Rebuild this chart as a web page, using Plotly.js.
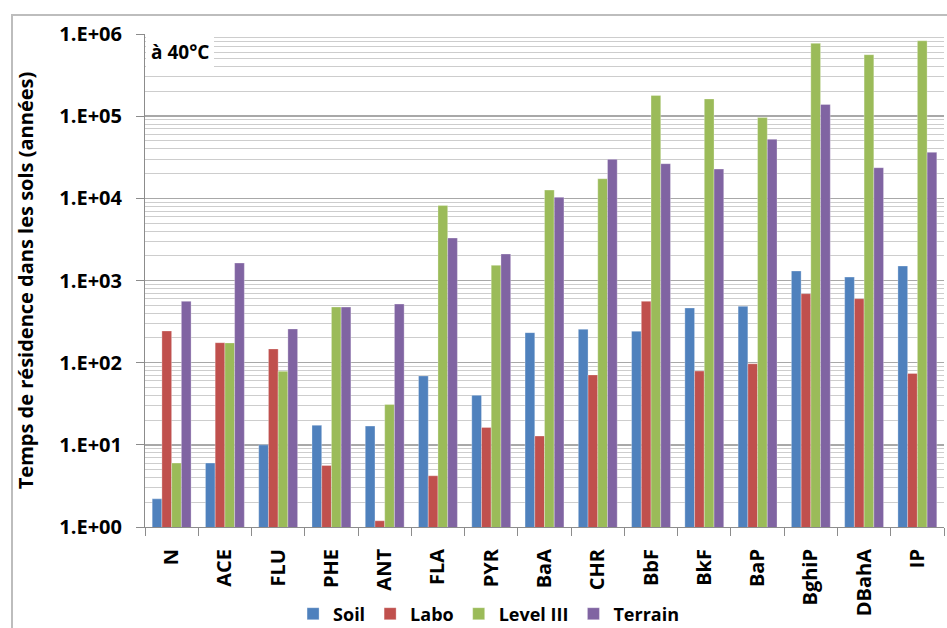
<!DOCTYPE html>
<html>
<head>
<meta charset="utf-8">
<script src="https://cdn.plot.ly/plotly-3.0.1.min.js"></script>
<style>
  html, body { margin: 0; padding: 0; background: #fff; }
  #wrap { position: relative; width: 947px; height: 628px; overflow: hidden; }
  #chart { position: absolute; left: 0; top: 0; width: 947px; height: 628px; }
  #frame { position: absolute; left: 11px; top: 14px; width: 1000px; height: 700px;
           border-left: 2px solid #bdbdbd; border-top: 2px solid #bdbdbd; pointer-events: none; }
</style>
</head>
<body>
<div id="wrap">
  <div id="chart"></div>
  <div id="frame"></div>
</div>
<script>
const categories = ["N","ACE","FLU","PHE","ANT","FLA","PYR","BaA","CHR","BbF","BkF","BaP","BghiP","DBahA","IP"];
const soil     = [2.2, 6.0, 10, 17.3, 16.9, 69, 40, 232, 255, 241, 463, 485, 1305, 1100, 1500];
const labo     = [243, 175, 147, 5.6, 1.19, 4.2, 16.3, 12.8, 71, 558, 79, 97, 691, 601, 74];
const levelIII = [6.0, 174, 78.5, 476, 31, 8200, 1530, 12600, 17300, 179000, 162000, 96000, 769000, 560000, 828000];
const terrain  = [558, 1633, 257, 475, 517, 3290, 2100, 10300, 29800, 26400, 22700, 52300, 139000, 23600, 36300];
const seriesNames = ["Soil", "Labo", "Level III", "Terrain"];
const seriesColors = ["#4F81BD", "#C0504D", "#9BBB59", "#8064A2"];
const yTickVals = [1, 10, 100, 1000, 10000, 100000, 1000000];
const yTickText = ["1.E+00","1.E+01","1.E+02","1.E+03","1.E+04","1.E+05","1.E+06"];

const minorVals = [];
for (let e = 0; e < 6; e++) for (let m = 2; m <= 9; m++) minorVals.push(m * Math.pow(10, e));

const F = '"Open Sans", "Liberation Sans", sans-serif';
const FS = 20;
const data = [soil, labo, levelIII, terrain].map((vals, i) => ({
  type: 'bar', name: seriesNames[i], x: categories, y: vals,
  marker: { color: seriesColors[i], line: { color: 'rgba(255,255,255,0.5)', width: 0.6 } }
}));

const layout = {
  width: 947, height: 628,
  margin: { l: 145, r: 3, t: 34, b: 101, autoexpand: false },
  paper_bgcolor: '#fff', plot_bgcolor: '#fff',
  barmode: 'group', bargap: 0.27, bargroupgap: 0,
  font: { family: F, color: '#000' },
  showlegend: true,
  legend: { orientation: 'h', x: 0.43, xanchor: 'center', y: -0.1765, yanchor: 'middle',
            font: { family: F, size: 18, color: '#000', weight: 'bold' },
            itemwidth: 30, tracegroupgap: 0 },
  xaxis: {
    type: 'category', automargin: false, showgrid: false, showline: true, linecolor: '#8c8c8c', linewidth: 1,
    ticks: 'outside', tickson: 'boundaries', ticklen: 8, tickcolor: '#8c8c8c',
    tickangle: -90, ticklabelstandoff: 13,
    tickfont: { family: F, size: FS, weight: 'bold', color: '#000' },
    fixedrange: true
  },
  yaxis: {
    type: 'log', automargin: false, range: [0, 6], tickmode: 'array', tickvals: yTickVals, ticktext: yTickText,
    tickfont: { family: F, size: FS, weight: 'bold', color: '#000' },
    showline: true, linecolor: '#8c8c8c', linewidth: 1,
    ticks: 'outside', ticklen: 8, tickcolor: '#8c8c8c', ticklabelstandoff: 10,
    showgrid: true, gridcolor: '#a8a8a8', gridwidth: 1.5, zeroline: false,
    minor: { tickmode: 'array', tickvals: minorVals, showgrid: true, gridcolor: '#cdcdcd', gridwidth: 1, ticks: '' },
    title: { text: 'Temps de résidence dans les sols (années)', standoff: 20,
             font: { family: F, size: FS, weight: 'bold', color: '#000' } },
    fixedrange: true
  },
  annotations: [{
    xref: 'paper', yref: 'paper', x: 0, y: 1, xanchor: 'left', yanchor: 'top',
    xshift: 1, yshift: 0, text: 'à 40°C', showarrow: false,
    font: { family: F, size: 19, weight: 'bold', color: '#000' },
    bgcolor: '#ffffff', borderpad: 5, borderwidth: 0
  }]
};

Plotly.newPlot('chart', data, layout, { displayModeBar: false, staticPlot: true });
</script>
</body>
</html>
